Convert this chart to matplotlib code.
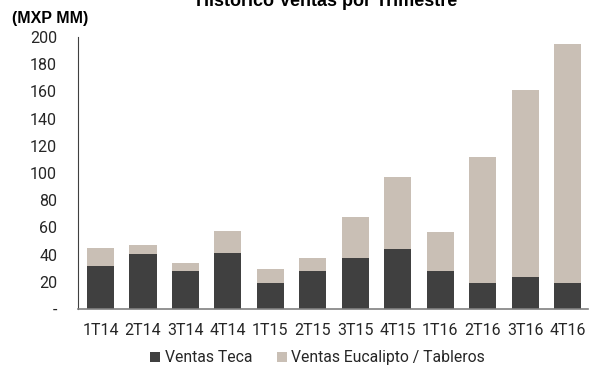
import matplotlib
matplotlib.use("Agg")
import matplotlib.pyplot as plt
from matplotlib.ticker import FixedLocator

plt.rcParams['font.family'] = ['Roboto', 'Liberation Sans', 'DejaVu Sans']

quarters = ["1T14", "2T14", "3T14", "4T14", "1T15", "2T15",
            "3T15", "4T15", "1T16", "2T16", "3T16", "4T16"]
teca = [31.4, 40.3, 27.8, 41.0, 19.4, 28.3, 37.8, 44.2, 27.8, 19.4, 23.3, 19.4]
total = [44.7, 47.4, 33.9, 57.7, 29.5, 37.8, 67.8, 97.3, 56.3, 112.0, 161.2, 195.1]
eucalipto = [t - v for t, v in zip(total, teca)]

yticks = [0, 20, 40, 60, 80, 100, 120, 140, 160, 180, 200]
ytick_labels = ["-"] + [str(v) for v in yticks[1:]]

dark = "#404040"
light = "#c9bfb5"
text_color = "#262626"

fig = plt.figure(figsize=(5.92, 3.73), dpi=100)
ax = fig.add_axes([78 / 592, 1 - 309 / 373, (588 - 78) / 592, (309 - 37) / 373])

x = list(range(len(quarters)))
ax.bar(x, teca, width=0.64, color=dark, label="Ventas Teca", zorder=2)
ax.bar(x, eucalipto, width=0.64, bottom=teca, color=light,
       label="Ventas Eucalipto / Tableros", zorder=2)

ax.set_xlim(-0.53, 11.48)
ax.set_ylim(0, 200)
ax.yaxis.set_major_locator(FixedLocator(yticks))
ax.set_yticklabels(ytick_labels)
ax.set_xticks(x)
ax.set_xticklabels(quarters)

for s in ("top", "right"):
    ax.spines[s].set_visible(False)
ax.spines["left"].set_color("#404040")
ax.spines["left"].set_linewidth(0.8)
ax.spines["bottom"].set_color("#808080")
ax.spines["bottom"].set_linewidth(1.2)
ax.tick_params(axis="both", length=0, labelsize=11.5, colors=text_color)
ax.tick_params(axis="y", pad=15)
ax.tick_params(axis="x", pad=10)

fig.text(12 / 592, 1 - 18 / 373, "(MXP MM)", family=["Liberation Sans"],
         fontsize=11.5, fontweight="bold", ha="left", va="center")
fig.text(327 / 592, 1 - 1 / 373, "Histórico Ventas por Trimestre",
         family=["Liberation Sans"], fontsize=13, fontweight="bold",
         ha="center", va="center")

leg = ax.legend(loc="center", bbox_to_anchor=(0.47, -0.18), ncol=2, frameon=False,
                fontsize=11.3, handlelength=0.6, handleheight=0.6, handletextpad=0.3,
                columnspacing=1.6)
for t in leg.get_texts():
    t.set_color(text_color)

fig.savefig("out.png", dpi=100)
